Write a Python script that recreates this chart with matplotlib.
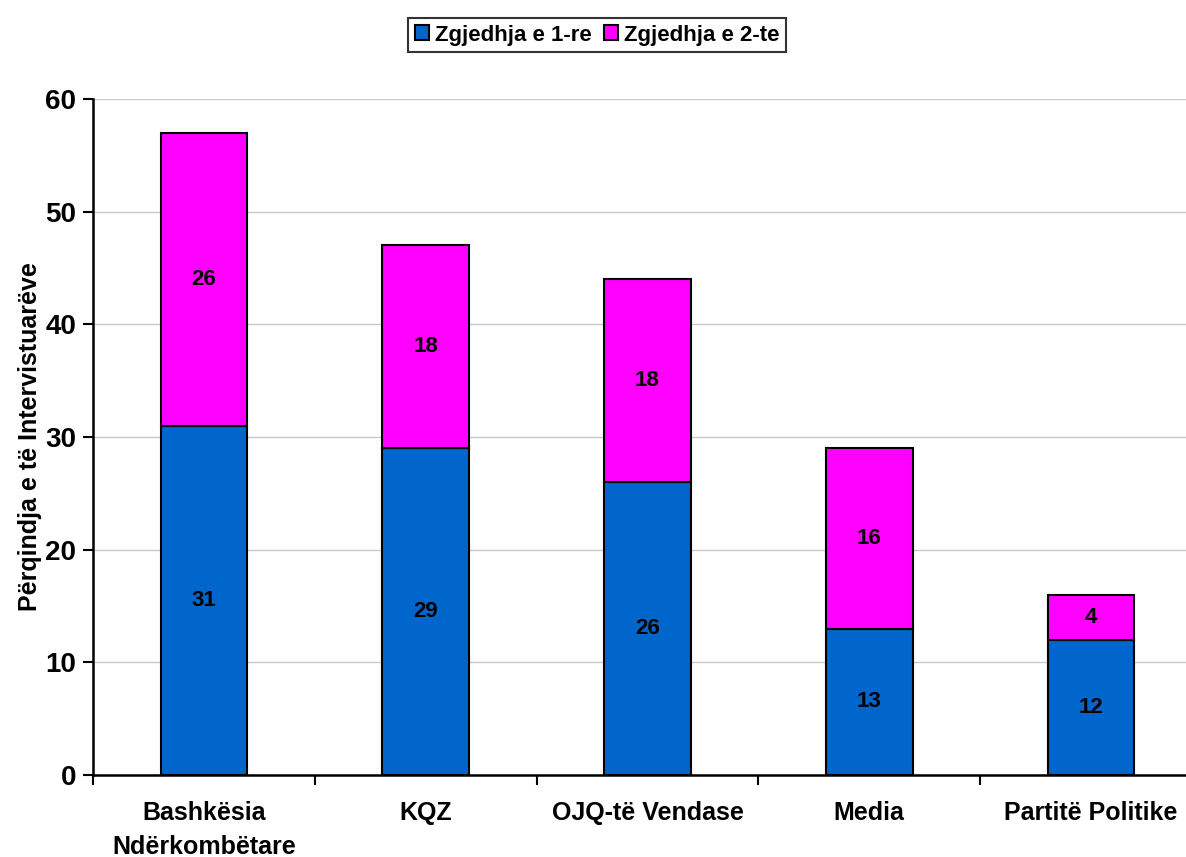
import matplotlib
matplotlib.use("Agg")
import matplotlib.pyplot as plt
import numpy as np

categories = ["Bashkësia\nNdërkombëtare", "KQZ", "OJQ-të Vendase", "Media", "Partitë Politike"]
first_choice = [31, 29, 26, 13, 12]
second_choice = [26, 18, 18, 16, 4]
series_names = ["Zgjedhja e 1-re", "Zgjedhja e 2-te"]
y_ticks = [0, 10, 20, 30, 40, 50, 60]

plt.rcParams['font.family'] = ['Liberation Sans', 'DejaVu Sans']
plt.rcParams['font.weight'] = 'bold'

fig = plt.figure(figsize=(11.86, 8.57), dpi=100)
ax = fig.add_axes([93/1186, 82/857, (1202-93)/1186, (775-99)/857])

x = np.arange(len(categories))
w = 0.39
b1 = ax.bar(x, first_choice, w, color="#0066CC", edgecolor="black", linewidth=1.5, label=series_names[0], zorder=3)
b2 = ax.bar(x, second_choice, w, bottom=first_choice, color="#FF00FF", edgecolor="black", linewidth=1.5, label=series_names[1], zorder=3)

for i in range(len(categories)):
    ax.text(x[i], first_choice[i] / 2, str(first_choice[i]), ha="center", va="center", fontsize=16, fontweight="bold", zorder=4)
    ax.text(x[i], first_choice[i] + second_choice[i] / 2, str(second_choice[i]), ha="center", va="center", fontsize=16, fontweight="bold", zorder=4)

ax.set_xlim(-0.5, len(categories) - 0.5)
ax.set_ylim(0, 60)
ax.set_yticks(y_ticks)
ax.set_yticklabels([str(t) for t in y_ticks], fontsize=20, fontweight="bold")
ax.set_xticks(x)
ax.set_xticklabels(categories, fontsize=18, fontweight="bold", linespacing=1.5)
ax.set_xticks(np.arange(-0.5, len(categories), 1.0), minor=True)
ax.tick_params(axis="x", which="major", length=0, pad=19)
ax.tick_params(axis="x", which="minor", length=7, width=1.5, direction="out")
ax.tick_params(axis="y", length=7, width=1.5, direction="out", pad=5)
ax.yaxis.grid(True, color="#c8c8c8", linewidth=1, zorder=0)
ax.set_axisbelow(True)
for s in ["top", "right"]:
    ax.spines[s].set_visible(False)
for s in ["left", "bottom"]:
    ax.spines[s].set_linewidth(1.8)
    ax.spines[s].set_color("black")

fig.text(30/1186, 1 - 437/857, "Përqindja e të Intervistuarëve", rotation=90, ha="center", va="center", fontsize=18, fontweight="bold")

leg = fig.legend(handles=[b1, b2], labels=series_names, loc="center", bbox_to_anchor=(597/1186, 1 - 35/857),
                 ncol=2, frameon=True, fancybox=False, prop={"size": 16, "weight": "bold"},
                 handlelength=0.63, handleheight=0.63, handletextpad=0.27, columnspacing=0.55,
                 borderpad=0.3, borderaxespad=0)
leg.get_frame().set_edgecolor("black")
leg.get_frame().set_linewidth(1.5)

fig.savefig("out.png", dpi=100)
